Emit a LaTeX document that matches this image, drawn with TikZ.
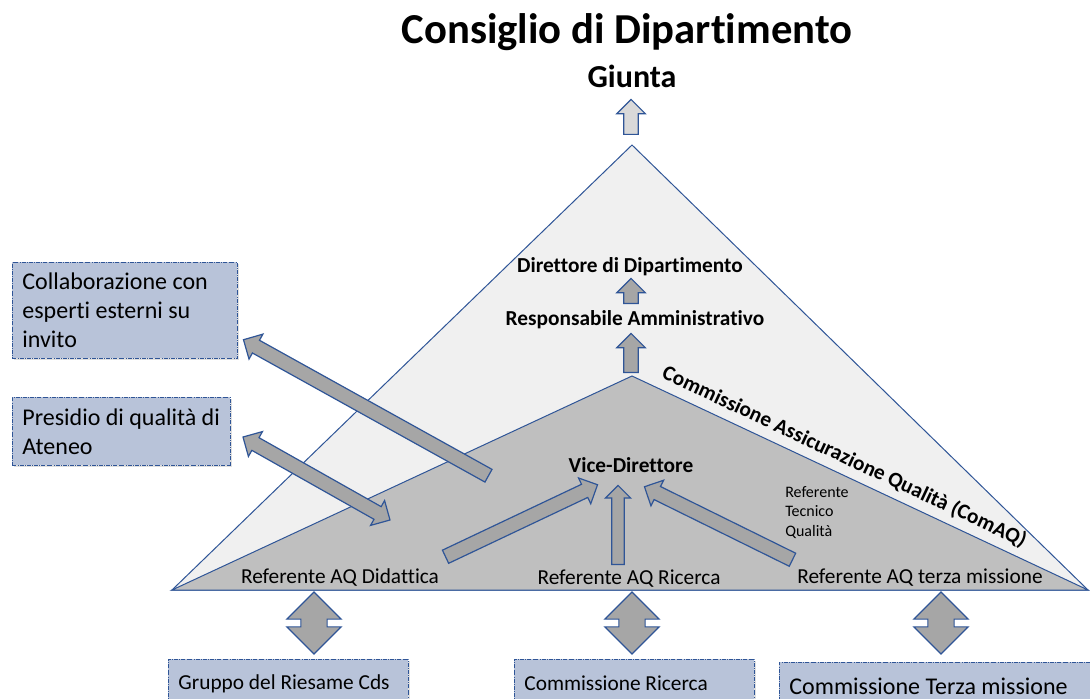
\documentclass[tikz,border=0pt]{standalone}
\usepackage{fontspec}
\setmainfont{Carlito}[Ligatures=NoCommon]
\usetikzlibrary{shapes.arrows,shadows,calc}

\definecolor{qaedge}{HTML}{2F5597}
\definecolor{outergray}{HTML}{F0F0F0}
\definecolor{innergray}{HTML}{BFBFBF}
\definecolor{arrowgray}{HTML}{A6A6A6}
\definecolor{lightarrow}{HTML}{D9D9D9}
\definecolor{boxblue}{HTML}{B8C3D9}

\tikzset{
  fatarrow/.style={single arrow, draw=qaedge, fill=arrowgray, line width=0.9pt,
    inner sep=0pt, inner ysep=5pt, minimum width=0pt,
    single arrow head extend=5.25pt, single arrow tip angle=90},
  twinarrow/.style={double arrow, draw=qaedge, fill=arrowgray, line width=0.9pt,
    inner sep=0pt, inner ysep=9.4pt, minimum width=0pt,
    double arrow head extend=10.5pt, double arrow tip angle=90},
  infobox/.style={draw=qaedge, densely dash dot, line width=0.6pt, fill=boxblue,
    drop shadow={shadow xshift=1.5pt, shadow yshift=-1.5pt, opacity=0.25},
    anchor=north west, align=flush left, inner xsep=7.5pt,
    font=\fontsize{18}{21.75}\selectfont},
  lowbox/.style={infobox, text width=165pt, minimum height=36pt,
    font=\fontsize{16}{19}\selectfont},
  level/.style={font=\fontsize{16}{19}\selectfont\bfseries, anchor=base},
  referent/.style={font=\fontsize{16}{19}\selectfont, anchor=base},
}

% block arrow from #2 (tail) to #3 (tip)
\newcommand{\blockarrow}[3][]{%
  \path let \p1=($(#3)-(#2)$) in
    node[fatarrow, #1, anchor=tail, rotate={atan2(\y1,\x1)},
      minimum height={veclen(\x1,\y1)}] at (#2) {};}
% two-headed block arrow between #2 and #3
\newcommand{\twinblock}[3][]{%
  \path let \p1=($(#3)-(#2)$) in
    node[twinarrow, #1, rotate={atan2(\y1,\x1)},
      minimum height={veclen(\x1,\y1)}] at ($(#2)!0.5!(#3)$) {};}

\begin{document}
\begin{tikzpicture}[x=0.75pt,y=-0.75pt]
    \clip (0,0) rectangle (1090,699);
    \fill[white] (0,0) rectangle (1090,699);

    % pyramid
    \coordinate (apex) at (632,145);
    \coordinate (apexqa) at (632,376);
    \coordinate (baseL) at (172,590);
    \coordinate (baseR) at (1088,590);
    \filldraw[fill=outergray, draw=qaedge, line width=0.75pt] (apex) -- (baseL) -- (baseR) -- cycle;
    \filldraw[fill=innergray, draw=qaedge, line width=0.75pt] (apexqa) -- (baseL) -- (baseR) -- cycle;
    \path (apexqa) -- node[sloped, above=2pt, pos=0.45, font=\fontsize{16}{19}\selectfont\bfseries] (comaq)
        {Commissione Assicurazione Qualità (ComAQ)} (baseR);

    % titles and levels
    \node[font=\fontsize{32}{38}\selectfont\bfseries, anchor=base] (title) at (627,44) {Consiglio di Dipartimento};
    \node[font=\fontsize{24}{29}\selectfont\bfseries, anchor=base] (giunta) at (632,88) {Giunta};
    \node[level] (dir) at (630,272) {Direttore di Dipartimento};
    \node[level] (resp) at (635,325) {Responsabile Amministrativo};
    \node[level] (vice) at (631,472) {Vice-Direttore};
    \node[font=\fontsize{12}{14.6}\selectfont, align=flush left, anchor=north west, inner sep=0pt] (tecnico)
        at (785,486) {Referente\\Tecnico\\Qualità};
    \node[referent] (refdid) at (340,583) {Referente AQ Didattica};
    \node[referent] (refric) at (629,584) {Referente AQ Ricerca};
    \node[referent] (refter) at (920,583) {Referente AQ terza missione};

    % boxes
    \node[infobox, text width=153.75pt, minimum height=72pt] (collab) at (12,262)
        {Collaborazione con\\esperti esterni su\\invito};
    \node[infobox, text width=148.5pt, minimum height=51pt] (presidio) at (12,397)
        {\mbox{Presidio di qualità di}\\Ateneo};
    \node[lowbox] (gruppo) at (168,659) {Gruppo del Riesame Cds};
    \node[lowbox] (comric) at (514,659) {Commissione Ricerca};
    \node[lowbox, text width=232pt, font=\fontsize{18}{21.75}\selectfont] (comter) at (779,662)
        {Commissione Terza missione};

    % arrow ends
    \coordinate (giT) at (631,135);   \coordinate (giH) at (631,100);
    \coordinate (raT) at (631,304);   \coordinate (raH) at (631,279);
    \coordinate (caT) at (631,373);   \coordinate (caH) at (631,334);
    \coordinate (didT) at (445,557);  \coordinate (didH) at (597,485);
    \coordinate (ricT) at (618,565);  \coordinate (ricH) at (618,486);
    \coordinate (terT) at (793,560);  \coordinate (terH) at (645,487);
    \coordinate (colT) at (489,476);  \coordinate (colH) at (244,340);
    \coordinate (preA) at (243,437);  \coordinate (preB) at (390,520);

    \blockarrow[fill=lightarrow]{giT}{giH}
    \blockarrow{raT}{raH}
    \blockarrow{caT}{caH}
    \blockarrow{didT}{didH}
    \blockarrow[inner ysep=4.2pt, single arrow head extend=4.8pt]{ricT}{ricH}
    \blockarrow{terT}{terH}
    \blockarrow{colT}{colH}
    \twinblock[inner ysep=5pt, double arrow head extend=5.25pt]{preA}{preB}

    % links to the commissions
    \foreach \cx/\nm in {314/did, 632/ric, 941/ter}{
        \coordinate (dn\nm T) at (\cx,592);
        \coordinate (dn\nm B) at (\cx,654);
        \twinblock{dn\nm T}{dn\nm B}
    }
\end{tikzpicture}
\end{document}
